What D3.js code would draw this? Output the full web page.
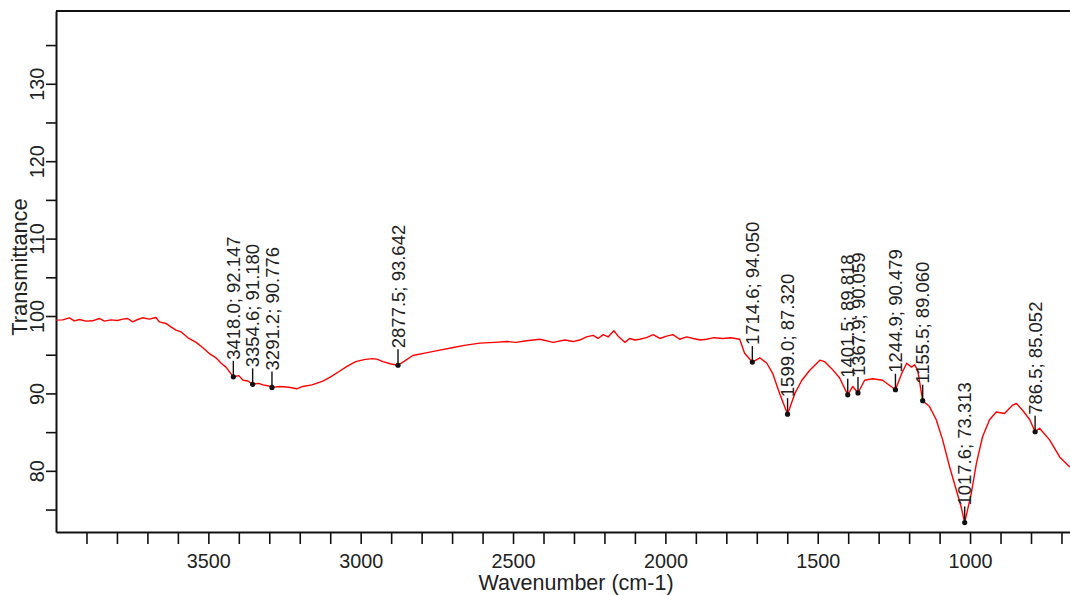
<!DOCTYPE html>
<html>
<head>
<meta charset="utf-8">
<script src="https://cdn.jsdelivr.net/npm/d3@7"></script>
<style>
  body { margin: 0; background: #fff; }
  text { font-family: Arial, "Liberation Sans", sans-serif; }
</style>
</head>
<body>
<div id="CHARTviz"></div>
<script>
// spectrum (wavenumber cm-1 / transmittance)
var wavenumber = [4000, 3978, 3956, 3940, 3923, 3902, 3880, 3858, 3841, 3820, 3798, 3781, 3765, 3748, 3732, 3716, 3694, 3672, 3661, 3639, 3623, 3606, 3590,
  3564, 3540, 3518, 3495, 3475, 3458, 3442, 3418.0, 3400, 3386, 3370, 3354.6, 3335, 3321, 3305, 3291.2, 3265, 3236, 3210, 3190, 3160, 3124, 3100, 3072, 3045, 3016,
  2985, 2960, 2945, 2927, 2900, 2877.5, 2855, 2829, 2790, 2740, 2700, 2660, 2609, 2560, 2520, 2490, 2456, 2412, 2368, 2330, 2303, 2281,
  2259, 2237, 2221, 2204, 2188, 2169, 2155, 2133, 2117, 2100, 2084, 2062, 2040, 2018, 1996, 1975, 1953, 1930, 1909, 1885, 1865, 1840, 1812, 1785, 1756, 1740,
  1714.6, 1690, 1667, 1648, 1625, 1599.0, 1575, 1552, 1526, 1493, 1477, 1454, 1428, 1401.5, 1385, 1367.9, 1346, 1320, 1287, 1244.9, 1224, 1208, 1192, 1182, 1172,
  1155.5, 1133, 1111, 1090, 1067, 1045, 1029, 1017.6, 996, 979, 959, 936, 914, 887, 860, 848, 827, 804, 786.5, 772, 739, 706, 673];
var transmittance = [99.47, 99.5, 99.77, 99.38, 99.55, 99.34, 99.38, 99.68, 99.34, 99.5, 99.42, 99.6, 99.68, 99.25, 99.55, 99.77, 99.6, 99.81, 99.25, 99.04, 98.6, 98.18, 97.96,
  97.1, 96.6, 95.9, 95.1, 94.6, 93.9, 93.4, 92.147, 92.3, 91.7, 91.6, 91.18, 91.3, 91.1, 91.0, 90.776, 90.9, 90.8, 90.6, 90.9, 91.1, 91.6, 92.1, 92.8, 93.5, 94.1,
  94.4, 94.5, 94.4, 94.1, 93.8, 93.642, 94.2, 94.9, 95.2, 95.6, 95.9, 96.2, 96.5, 96.6, 96.7, 96.6, 96.8, 97.0, 96.6, 96.9, 96.7, 96.9,
  97.31, 97.5, 97.1, 97.6, 97.3, 98.1, 97.4, 96.6, 97.1, 96.9, 97.0, 97.2, 97.6, 97.1, 97.4, 97.6, 97.0, 97.3, 97.1, 96.9, 97.0, 97.2, 97.1, 97.2, 97.0, 95.2,
  94.050, 94.6, 93.9, 92.6, 90.0, 87.320, 90.0, 91.7, 93.0, 94.3, 94.1, 93.2, 92.0, 89.818, 90.9, 90.059, 91.7, 91.9, 91.7, 90.479, 92.6, 93.9, 93.4, 93.7, 93.0,
  89.060, 88.3, 86.6, 84.0, 80.5, 77.5, 75.3, 73.313, 77.1, 81.0, 84.4, 86.6, 87.6, 87.4, 88.5, 88.7, 87.8, 86.6, 85.052, 85.5, 84.0, 81.8, 80.5];

// picked peaks
var peakWave = [3418.0, 3354.6, 3291.2, 2877.5, 1714.6, 1599.0, 1401.5, 1367.9, 1244.9, 1155.5, 1017.6, 786.5];
var peakT = [92.147, 91.180, 90.776, 93.642, 94.050, 87.320, 89.818, 90.059, 90.479, 89.060, 73.313, 85.052];

var xTicks = d3.range(3900, 699, -100);
var yTicks = d3.range(75, 136, 5);

var W = 1070, H = 595;

var svg = d3.select("#CHARTviz")
  .append("svg")
  .attr("width", W)
  .attr("height", H);

var x = d3.scaleLinear().domain([4000, 672]).range([56, 1070]);
var y = d3.scaleLinear().domain([72.1, 139.4]).range([532, 11]);

var data = wavenumber.map(function(w, i) { return {w: w, t: transmittance[i]}; });
var peaks = peakWave.map(function(w, i) { return {w: w, t: peakT[i]}; });

// top frame line
svg.append("line")
  .attr("x1", 56).attr("x2", W)
  .attr("y1", 11).attr("y2", 11)
  .attr("stroke", "#111").attr("stroke-width", 2);

var xAxis = d3.axisBottom(x)
  .tickValues(xTicks)
  .tickSize(12)
  .tickSizeOuter(0)
  .tickPadding(10)
  .tickFormat(function(d) { return d % 500 === 0 ? d : ""; });

var XAXIS = svg.append("g")
  .attr("transform", "translate(0,532)")
  .call(xAxis);

var yAxis = d3.axisLeft(y)
  .tickValues(yTicks)
  .tickSize(10)
  .tickSizeOuter(0)
  .tickFormat(function(d) { return d % 10 === 0 ? d : ""; });

var YAXIS = svg.append("g")
  .attr("transform", "translate(56,0)")
  .call(yAxis);

svg.selectAll(".domain").attr("stroke", "#111").attr("stroke-width", 2);
svg.selectAll(".tick line").attr("stroke", "#111").attr("stroke-width", 1.6);
svg.selectAll(".tick text").style("font-size", "19.8px").attr("fill", "#222");

YAXIS.selectAll(".tick text")
  .attr("transform", "rotate(-90)")
  .attr("x", 0)
  .attr("y", -12.5)
  .attr("dy", 0)
  .attr("text-anchor", "middle");

// spectrum
var clip = svg.append("defs").append("clipPath")
  .attr("id", "clip")
  .append("rect")
  .attr("x", 56).attr("y", 11)
  .attr("width", W - 56).attr("height", 521);

var line = d3.line()
  .x(function(d) { return x(d.w); })
  .y(function(d) { return y(d.t); });

svg.append("path")
  .datum(data)
  .attr("clip-path", "url(#clip)")
  .attr("d", line)
  .attr("fill", "none")
  .attr("stroke", "#ff0000")
  .attr("stroke-width", 1.4)
  .attr("stroke-linejoin", "round");

// peak markers with rotated labels
var pk = svg.selectAll(".peak")
  .data(peaks)
  .enter()
  .append("g")
  .attr("class", "peak")
  .attr("transform", function(d) { return "translate(" + x(d.w) + "," + y(d.t) + ")"; });

pk.append("line")
  .attr("x1", 0).attr("x2", 0)
  .attr("y1", 0).attr("y2", -16)
  .attr("stroke", "#111").attr("stroke-width", 1.4);

pk.append("circle")
  .attr("r", 2.6)
  .attr("fill", "#111");

pk.append("text")
  .attr("transform", "rotate(-90)")
  .attr("x", 17)
  .attr("y", 0)
  .attr("dy", "0.36em")
  .style("font-size", "18.5px")
  .attr("fill", "#222")
  .text(function(d) { return d.w.toFixed(1) + "; " + d.t.toFixed(3); });

// axis titles
svg.append("text")
  .attr("x", 576).attr("y", 590)
  .attr("text-anchor", "middle")
  .style("font-size", "21.5px")
  .attr("fill", "#222")
  .text("Wavenumber (cm-1)");

svg.append("text")
  .attr("transform", "translate(27,267) rotate(-90)")
  .attr("text-anchor", "middle")
  .style("font-size", "21.8px")
  .attr("fill", "#222")
  .text("Transmittance");
</script>
</body>
</html>
